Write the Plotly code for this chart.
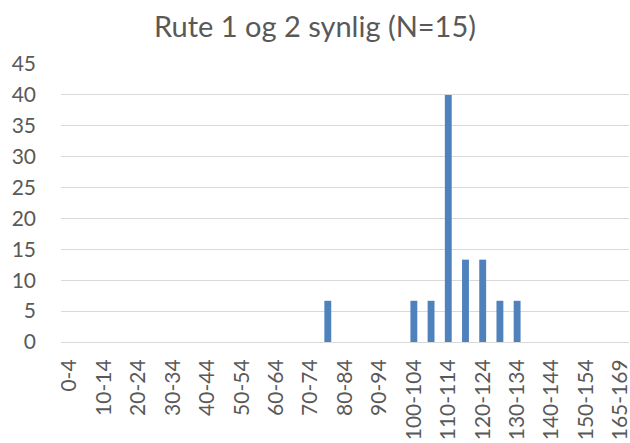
import plotly.graph_objects as go

categories = [f"{s}-{s+4}" for s in range(0, 160, 5)] + ["165-169"]
values = [0.0] * len(categories)
bar_values = {
    "75-79": 6.67,
    "100-104": 6.67,
    "105-109": 6.67,
    "110-114": 40.0,
    "115-119": 13.33,
    "120-124": 13.33,
    "125-129": 6.67,
    "130-134": 6.67,
}
for k, v in bar_values.items():
    values[categories.index(k)] = v

tick_labels = categories[::2]
y_ticks = list(range(0, 50, 5))

font_family = "Lato, Open Sans, sans-serif"
grey = "#595959"

fig = go.Figure(
    go.Bar(
        x=categories,
        y=values,
        marker=dict(color="#4f81bd", line=dict(width=0)),
        width=0.4,
    )
)

fig.update_layout(
    width=630,
    height=443,
    margin=dict(l=61, r=1, t=64, b=101, autoexpand=False),
    paper_bgcolor="white",
    plot_bgcolor="white",
    showlegend=False,
    title=dict(
        text="Rute 1 og 2 synlig (N=15)",
        x=0.5,
        xanchor="center",
        y=0.94,
        yanchor="middle",
        font=dict(family=font_family, size=29, color=grey),
        automargin=False,
    ),
    font=dict(family=font_family, color=grey, size=21),
)

fig.update_xaxes(
    type="category",
    categoryorder="array",
    categoryarray=categories,
    tickmode="array",
    tickvals=tick_labels,
    ticktext=tick_labels,
    tickangle=-90,
    tickfont=dict(size=21, color=grey),
    showline=True,
    linecolor="#d9d9d9",
    linewidth=1,
    showgrid=False,
    ticks="",
    automargin=False,
    ticklabelstandoff=8,
)

fig.update_yaxes(
    range=[0, 45],
    tickvals=y_ticks,
    showgrid=True,
    gridcolor="#d9d9d9",
    gridwidth=1,
    zeroline=False,
    showline=False,
    ticks="",
    tickfont=dict(size=21, color=grey),
    ticklabelstandoff=24,
    automargin=False,
)

fig.write_html(
    "out.html",
    config={"displayModeBar": False},
    post_script="document.body.style.margin='0';",
)
